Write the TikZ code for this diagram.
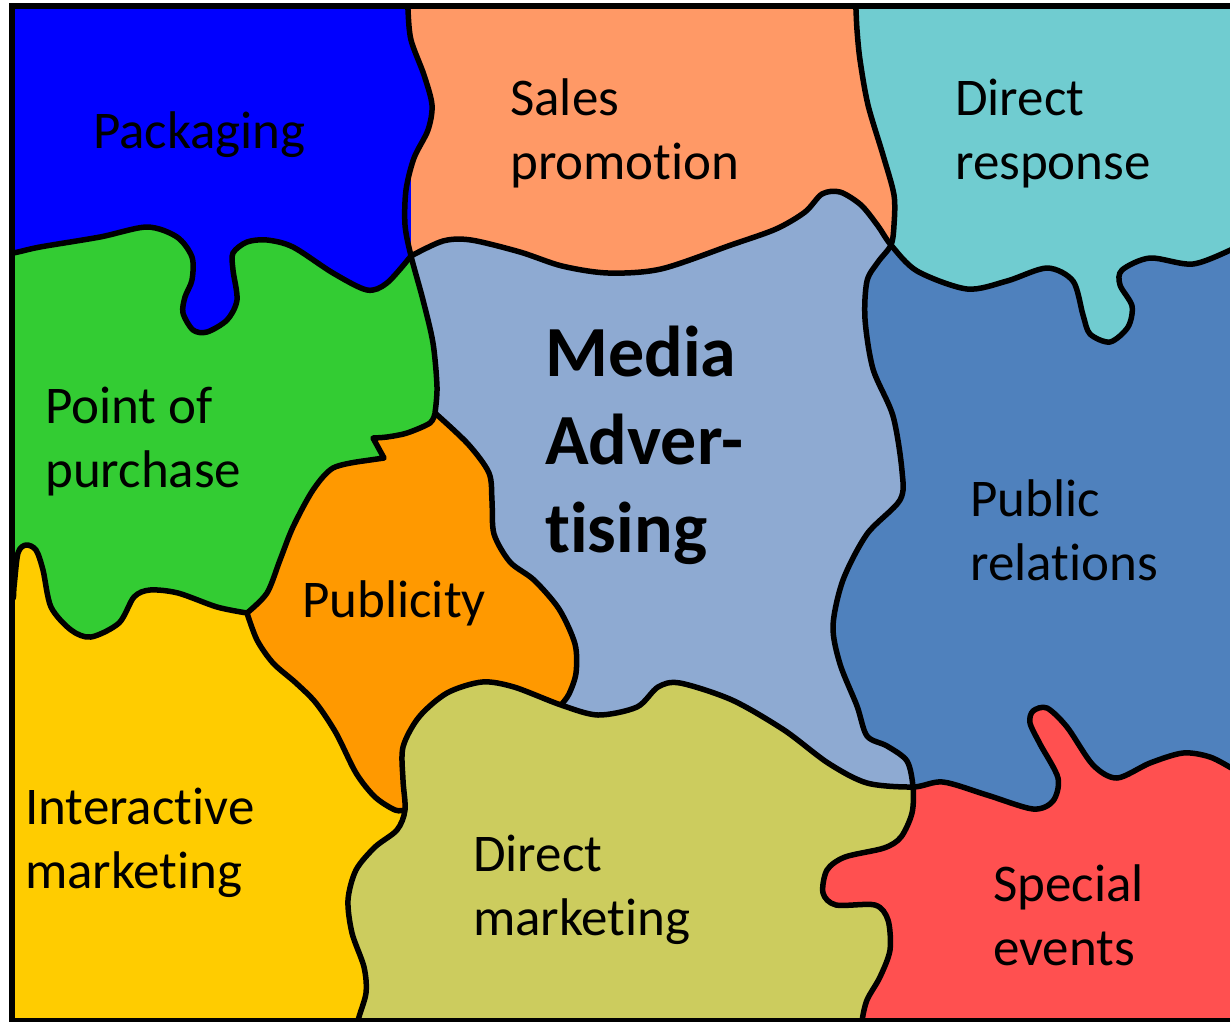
\documentclass[tikz,border=0pt]{standalone}
\usepackage{fontspec}
\setmainfont{Carlito}[Ligatures=NoCommon]

\definecolor{packblue}{RGB}{0,0,255}
\definecolor{salesorange}{RGB}{255,153,102}
\definecolor{responseteal}{RGB}{112,204,208}
\definecolor{popgreen}{RGB}{51,204,51}
\definecolor{mediablue}{RGB}{142,170,210}
\definecolor{prblue}{RGB}{79,129,189}
\definecolor{puborange}{RGB}{255,153,0}
\definecolor{imyellow}{RGB}{255,204,0}
\definecolor{dmolive}{RGB}{204,204,94}
\definecolor{eventred}{RGB}{255,80,80}

% borders between the patches
\newcommand\bSalesLeft{plot[smooth] coordinates {(408,-10) (408,10) (411,40) (424,75) (432,105) (428,130) (414,158) (406,190) (405,225) (411,256) (423,300) (433,343) (437,387) (435,413)}}
\newcommand\bGreenTop{plot[smooth] coordinates {(-5,254) (13,253) (40,247) (100,237) (147,227) (177,237) (192,257) (192,280) (185,297) (183,313) (193,330) (207,332) (227,320) (237,300) (233,270) (233,253) (247,242) (267,240) (293,247) (333,273) (367,290) (387,283) (411,256)}}
\newcommand\bMediaTop{plot[smooth] coordinates {(411,256) (443,241) (471,240) (520,252) (562,266) (608,273) (661,269) (731,245) (776,229) (805,212) (822,194) (840,192) (861,205) (878,226) (891,245) (917,271) (967,289) (1007,281) (1047,268) (1073,281) (1083,315) (1090,334) (1110,342) (1128,327) (1132,306) (1120,285) (1122,270) (1150,258) (1193,264) (1235,248) (1250,240)}}
\newcommand\bMediaRight{plot[smooth] coordinates {(855,-10) (856,10) (857,30) (860,60) (868,105) (883,155) (894,195) (894,225) (891,245) (878,262) (867,281) (865,319) (873,369) (893,416) (902,471) (900,500) (867,534) (843,580) (833,626) (840,664) (857,706) (867,736) (887,746) (907,761) (913,787) (912,813) (901,837) (884,848) (845,857) (827,870) (823,893) (836,905) (875,905) (888,920) (890,950) (880,977) (867,1000) (862,1021) (861,1040)}}
\newcommand\bOliveTop{plot[smooth] coordinates {(358,1040) (358,1021) (366,993) (364,967) (352,933) (348,900) (356,870) (375,847) (397,830) (405,810) (403,780) (403,747) (419,717) (447,693) (482,682) (514,687) (561,705) (598,715) (637,707) (658,687) (680,683) (732,700) (784,730) (828,763) (867,783) (913,787) (943,782) (987,795) (1033,809) (1053,801) (1058,778) (1040,744) (1030,723) (1033,711) (1047,708) (1067,727) (1093,765) (1117,778) (1150,763) (1183,753) (1210,757) (1235,770) (1250,778)}}
\newcommand\bPubRight{plot[smooth] coordinates {(435,413) (468,444) (489,473) (492,501) (494,534) (510,562) (534,580) (559,609) (575,644) (576,673) (569,694) (561,705)}}
\newcommand\bGreenLow{plot[smooth] coordinates {(435,413) (430,423) (407,433) (387,437) (373,438)} -- (384,458) -- plot[smooth] coordinates {(363,461) (333,468) (313,490) (293,527) (280,560) (267,593) (247,613)} -- plot[smooth] coordinates {(247,613) (217,607) (178,593) (150,590) (134,597) (119,623) (91,637) (71,630) (51,607) (43,570) (36,550) (26,545) (18,553) (14,587) (12,600) (-5,610)}}
\newcommand\bPubLeft{plot[smooth] coordinates {(247,613) (257,640) (273,663) (296,683) (316,703) (336,733) (356,773) (375,797) (395,810) (405,810)}}

% one side of each border
\newcommand\sideSalesR{\bSalesLeft -- (435,1040) -- (1250,1040) -- (1250,-10) -- cycle}
\newcommand\sideSalesL{\bSalesLeft -- (435,1040) -- (-5,1040) -- (-5,-10) -- cycle}
\newcommand\sideGreenTopB{\bGreenTop -- (460,256) -- (460,1040) -- (-5,1040) -- cycle}
\newcommand\sideMediaTopA{\bMediaTop -- (1250,-10) -- (411,-10) -- cycle}
\newcommand\sideMediaTopB{\bMediaTop -- (1250,1040) -- (411,1040) -- cycle}
\newcommand\sideMediaRightL{\bMediaRight -- (-5,1040) -- (-5,-10) -- cycle}
\newcommand\sideMediaRightR{\bMediaRight -- (1250,1040) -- (1250,-10) -- cycle}
\newcommand\sideOliveTopA{\bOliveTop -- (1250,-10) -- (-5,-10) -- (-5,1040) -- cycle}
\newcommand\sideOliveTopB{\bOliveTop -- (1250,1040) -- cycle}
\newcommand\sidePubRightL{\bPubRight -- (561,1040) -- (-5,1040) -- (-5,413) -- cycle}
\newcommand\sidePubRightR{\bPubRight -- (561,1040) -- (1250,1040) -- (1250,-10) -- (400,-10) -- (400,413) -- cycle}
\newcommand\sideGreenLowA{\bGreenLow -- (-5,-10) -- (435,-10) -- cycle}
\newcommand\sideGreenLowB{\bGreenLow -- (-5,1040) -- (1250,1040) -- (1250,413) -- cycle}
\newcommand\sidePubLeftL{\bPubLeft -- (405,1040) -- (-5,1040) -- (-5,-10) -- (247,-10) -- cycle}
\newcommand\sidePubLeftR{\bPubLeft -- (1250,810) -- (1250,-10) -- (247,-10) -- cycle}

\tikzset{
  rim/.style={line width=5.5pt, line join=round},
  lbl/.style={font=\fontsize{53}{63.5}\selectfont, align=left, inner sep=0pt, anchor=base west},
  bigLbl/.style={font=\fontsize{72}{88}\selectfont\bfseries, align=left, inner sep=0pt, anchor=base west}
}

\begin{document}
\begin{tikzpicture}[x=1pt,y=-1pt]
\useasboundingbox (0,0) rectangle (1230,1021);

\begin{scope}
  \clip (12,6) rectangle (1250,1021);

  \fill[packblue] (0,0) rectangle (1250,1040);

  \begin{scope}
    \clip \sideSalesR; \clip \sideMediaTopA; \clip \sideMediaRightL;
    \fill[salesorange] (0,0) rectangle (1250,1040);
  \end{scope}

  \begin{scope}
    \clip \sideMediaRightR; \clip \sideMediaTopA;
    \fill[responseteal] (0,0) rectangle (1250,1040);
  \end{scope}

  \begin{scope}
    \clip \sideGreenTopB; \clip \sideSalesL; \clip \sideGreenLowA;
    \fill[popgreen] (0,0) rectangle (1250,1040);
  \end{scope}

  \begin{scope}
    \clip \sideMediaTopB; \clip \sideMediaRightL; \clip \sideSalesR;
    \clip \sidePubRightR; \clip \sideOliveTopA;
    \fill[mediablue] (0,0) rectangle (1250,1040);
  \end{scope}

  \begin{scope}
    \clip \sideMediaTopB; \clip \sideMediaRightR; \clip \sideOliveTopA;
    \fill[prblue] (0,0) rectangle (1250,1040);
  \end{scope}

  \begin{scope}
    \clip \sideGreenLowB; \clip \sidePubRightL; \clip \sideOliveTopA; \clip \sidePubLeftR;
    \fill[puborange] (0,0) rectangle (1250,1040);
  \end{scope}

  \begin{scope}
    \clip \sideGreenLowB; \clip \sidePubLeftL; \clip \sideOliveTopA;
    \fill[imyellow] (0,0) rectangle (1250,1040);
  \end{scope}

  \begin{scope}
    \clip \sideOliveTopB; \clip \sideMediaRightL;
    \fill[dmolive] (0,0) rectangle (1250,1040);
  \end{scope}

  \begin{scope}
    \clip \sideOliveTopB; \clip \sideMediaRightR;
    \fill[eventred] (0,0) rectangle (1250,1040);
  \end{scope}

  \draw[rim] \bSalesLeft;
  \draw[rim] \bGreenTop;
  \draw[rim] \bMediaTop;
  \draw[rim] \bMediaRight;
  \draw[rim] \bOliveTop;
  \draw[rim] \bPubRight;
  \draw[rim] \bGreenLow;
  \draw[rim] \bPubLeft;
\end{scope}

\draw[line width=6pt] (1250,6) -- (12,6) -- (12,1021) -- (1250,1021);

\node[lbl] (packaging) at (93,148) {Packaging};
\node[lbl] (sales) at (510,179) {Sales\\promotion};
\node[lbl] (response) at (955,179) {Direct\\response};
\node[lbl] (purchase) at (45,487) {Point of\\purchase};
\node[lbl] (publicity) at (302,617) {Publicity};
\node[bigLbl] (media) at (545,552) {Media\\Adver-\\tising};
\node[lbl] (relations) at (970,580) {Public\\relations};
\node[lbl] (interactive) at (25,888) {Interactive\\marketing};
\node[lbl] (direct) at (473,935) {Direct\\marketing};
\node[lbl] (events) at (993,965) {Special\\events};

\end{tikzpicture}
\end{document}
